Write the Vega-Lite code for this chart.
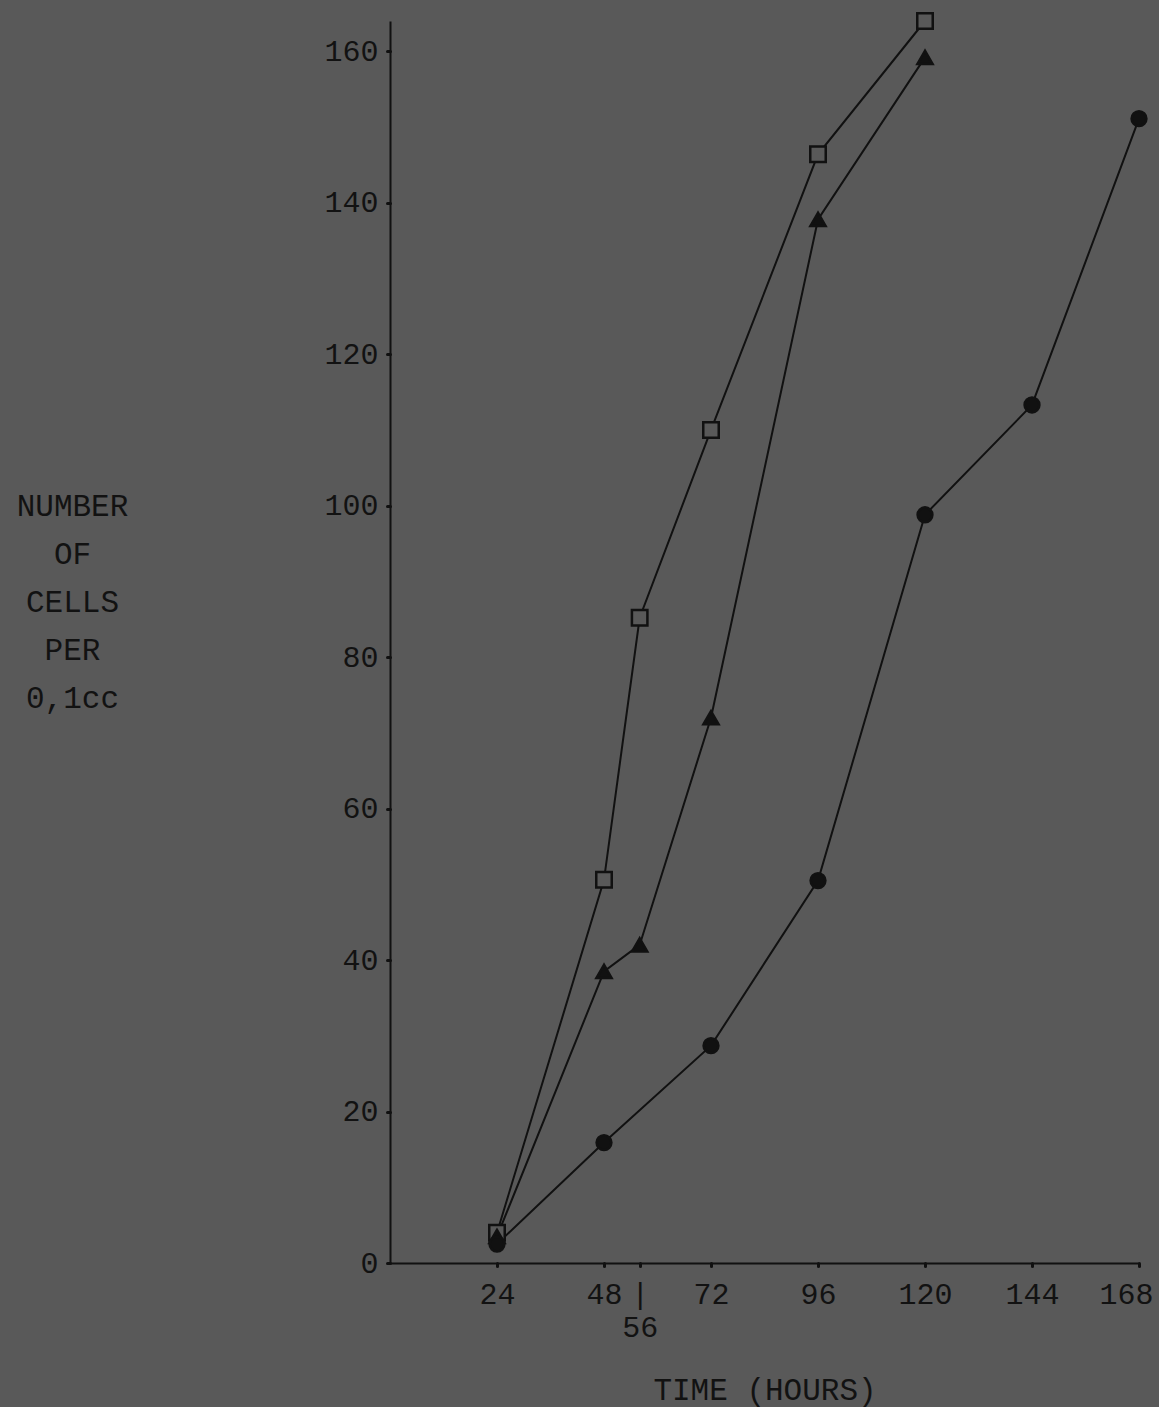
{
  "$schema": "https://vega.github.io/schema/vega-lite/v6.json",
  "autosize": "none",
  "width": 749,
  "height": 1242,
  "padding": {"left": 390, "top": 21, "right": 20, "bottom": 144},
  "background": "#595959",
  "config": {
    "view": {"stroke": null},
    "font": "Liberation Mono",
    "axis": {"grid": false, "domainColor": "#111111", "domainWidth": 2, "tickColor": "#111111", "tickWidth": 3, "tickSize": 3, "tickCap": "round", "labelColor": "#121212", "titleColor": "#121212", "labelFont": "Liberation Mono", "titleFont": "Liberation Mono", "labelFontSize": 30, "titleFontSize": 31, "titleFontWeight": "normal"}
  },
  "data": {"values": [
    {"series": "square", "time": 24, "cells": 4},
    {"series": "square", "time": 48, "cells": 50.6},
    {"series": "square", "time": 56, "cells": 85.2},
    {"series": "square", "time": 72, "cells": 110},
    {"series": "square", "time": 96, "cells": 146.4},
    {"series": "square", "time": 120, "cells": 164},
    {"series": "triangle", "time": 24, "cells": 3.5},
    {"series": "triangle", "time": 48, "cells": 38.5},
    {"series": "triangle", "time": 56, "cells": 42},
    {"series": "triangle", "time": 72, "cells": 72},
    {"series": "triangle", "time": 96, "cells": 137.8},
    {"series": "triangle", "time": 120, "cells": 159.2},
    {"series": "circle", "time": 24, "cells": 2.5},
    {"series": "circle", "time": 48, "cells": 15.9},
    {"series": "circle", "time": 72, "cells": 28.7},
    {"series": "circle", "time": 96, "cells": 50.5},
    {"series": "circle", "time": 120, "cells": 98.8},
    {"series": "circle", "time": 144, "cells": 113.3},
    {"series": "circle", "time": 168, "cells": 151.1}
  ]},
  "encoding": {
    "x": {"field": "time", "type": "quantitative", "scale": {"domain": [0, 168], "nice": false, "zero": true},
      "axis": {"values": [24, 48, 56, 72, 96, 120, 144, 168], "labelPadding": 13, "labelBaseline": "top", "labelLineHeight": 33, "labelFlush": true, "labelFlushOffset": 14, "labelOverlap": false,
        "labelExpr": "datum.value == 56 ? ['|', '56'] : datum.label",
        "title": "TIME (HOURS)", "titleY": 127, "titleBaseline": "middle"}},
    "y": {"field": "cells", "type": "quantitative", "scale": {"domain": [0, 164], "nice": false},
      "axis": {"values": [0, 20, 40, 60, 80, 100, 120, 140, 160], "labelPadding": 9, "labelFlush": false,
        "title": ["NUMBER", "OF", "CELLS", "PER", "0,1cc"], "titleAngle": 0, "titleAlign": "center", "titleBaseline": "top", "titleX": -318, "titleY": 470, "titleLineHeight": 48}}
  },
  "layer": [
    {"mark": {"type": "line", "color": "#111111", "strokeWidth": 2}, "encoding": {"detail": {"field": "series"}}},
    {"mark": {"type": "point", "filled": true, "stroke": "#111111", "strokeWidth": 2.5, "opacity": 1, "clip": false},
      "encoding": {
        "shape": {"field": "series", "type": "nominal", "scale": {"domain": ["square", "triangle", "circle"], "range": ["square", "triangle-up", "circle"]}, "legend": null},
        "fill": {"field": "series", "type": "nominal", "scale": {"domain": ["square", "triangle", "circle"], "range": ["#595959", "#111111", "#111111"]}, "legend": null},
        "size": {"field": "series", "type": "nominal", "scale": {"domain": ["square", "triangle", "circle"], "range": [240, 220, 200]}, "legend": null}
      }}
  ]
}
